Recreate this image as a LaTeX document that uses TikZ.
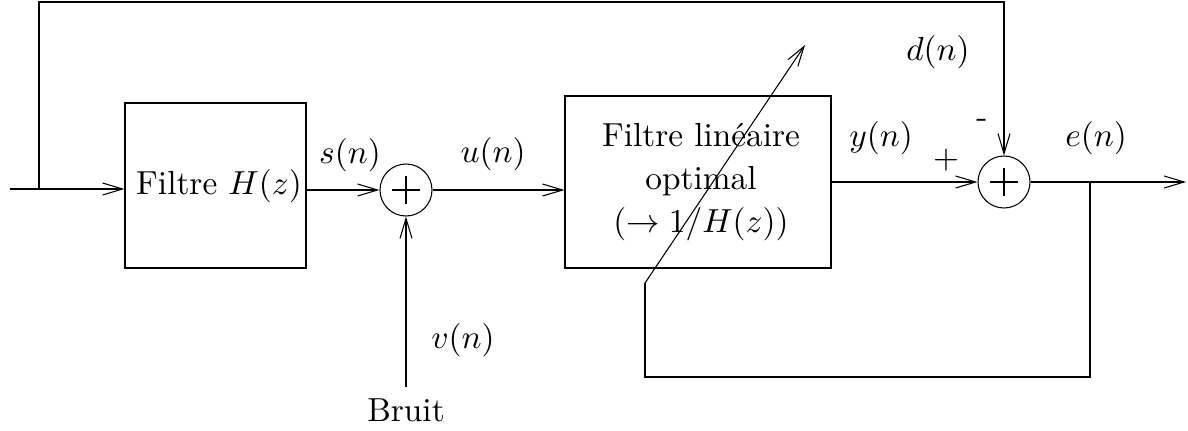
\documentclass[tikz,border=0pt]{standalone}
\usetikzlibrary{arrows.meta}
\begin{document}
\begin{tikzpicture}[x=0.3pt,y=-0.3pt,line width=0.32pt,
  arr/.style={-{Straight Barb[length=6pt,width=3.6pt]}},
  blk/.style={draw,rectangle,inner sep=0pt},
  sumnode/.style={draw,circle,minimum size=15.6pt,inner sep=0pt},
  lbl/.style={inner sep=0pt}]
\useasboundingbox (0,0) rectangle (1188,430);
% nodes
\coordinate (in) at (10,189);
\coordinate (j) at (39,189);
\node[blk,minimum width=54.3pt,minimum height=49.5pt] (box1) at (215.5,185.5) {};
\node[lbl] (box1txt) at (219,186) {Filtre $H(z)$};
\node[sumnode] (c1) at (406,190) {};
\draw (c1.center) ++(-14,0) -- ++(28,0);
\draw (c1.center) ++(0,-14) -- ++(0,28);
\node[blk,minimum width=79.8pt,minimum height=51.6pt] (box2) at (698,182) {};
\node[lbl,align=center] (box2txt) at (701,182) {Filtre lin\'eaire\\[1pt]optimal\\[1pt]$(\rightarrow 1/H(z))$};
\node[sumnode] (c2) at (1004,182) {};
\draw (c2.center) ++(-14,0) -- ++(28,0);
\draw (c2.center) ++(0,-14) -- ++(0,28);
\coordinate (out) at (1186,182);
\coordinate (fb) at (1090,182);
\coordinate (fl) at (645,377);
\coordinate (dst) at (645,283);
\coordinate (dend) at (805,45);
\coordinate (top) at (1004,2);
\node (bruit) at (406,410) {Bruit};
% labels
\node[lbl] (sn) at (350,155) {$s(n)$};
\node[lbl] (un) at (493,154) {$u(n)$};
\node[lbl] (vn) at (463,340) {$v(n)$};
\node[lbl] (yn) at (881,138) {$y(n)$};
\node[lbl] (dn) at (938,52) {$d(n)$};
\node[lbl] (en) at (1096,138) {$e(n)$};
\node[lbl] (minus) at (982,123) {-};
\node[lbl] (plus) at (946,160) {$+$};
% connectors
\draw[arr] (in) -- (box1.west |- in);
\draw[arr] (box1.east |- c1) -- (c1.west);
\draw[arr] (bruit.north) -- (c1.south);
\draw[arr] (c1.east) -- (box2.west |- c1);
\draw[arr] (box2.east |- c2) -- (c2.west);
\draw[arr] (c2.east) -- (out);
\draw[arr] (j) |- (top) -- (c2.north);
\draw (fb) |- (fl) -- (dst);
\draw[arr] (dst) -- (dend);
\end{tikzpicture}
\end{document}
